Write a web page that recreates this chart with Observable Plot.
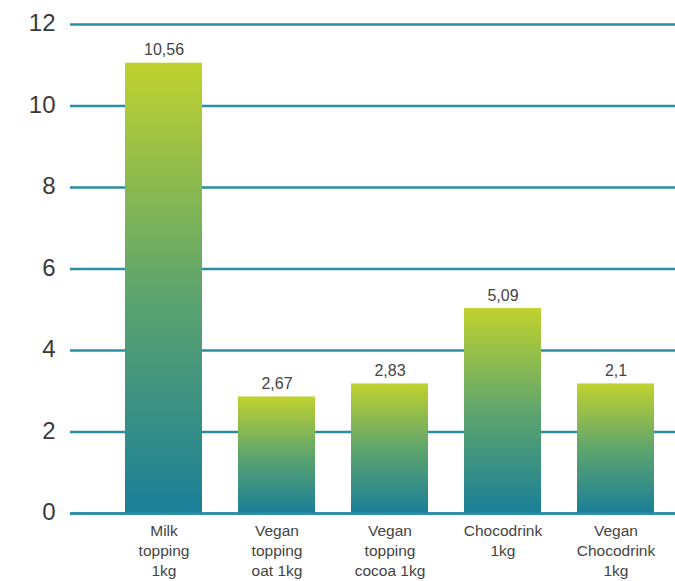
<!DOCTYPE html>
<html>
<head>
<meta charset="utf-8">
<script src="https://cdn.jsdelivr.net/npm/d3@7"></script>
<script src="https://cdn.jsdelivr.net/npm/@observablehq/plot@0.6"></script>
<style>
  body { margin: 0; background: #fff; }
  #chart { width: 675px; height: 581px; }
</style>
</head>
<body>
<div id="chart"></div>
<script>
const categories = ["Milk topping 1kg", "Vegan topping oat 1kg", "Vegan topping cocoa 1kg", "Chocodrink 1kg", "Vegan Chocodrink 1kg"];
const tickLabels = ["Milk\ntopping\n1kg", "Vegan\ntopping\noat 1kg", "Vegan\ntopping\ncocoa 1kg", "Chocodrink\n1kg", "Vegan\nChocodrink\n1kg"];
const barHeights = [11.05, 2.86, 3.18, 5.03, 3.18];
const valueLabels = ["10,56", "2,67", "2,83", "5,09", "2,1"];
const yTicks = [0, 2, 4, 6, 8, 10, 12];

const data = categories.map((c, i) => ({cat: c, h: barHeights[i], label: valueLabels[i], tick: tickLabels[i]}));

const font = "'Liberation Sans', Arial, sans-serif";

const plot = Plot.plot({
  width: 675,
  height: 581,
  marginLeft: 70,
  marginRight: 0,
  marginTop: 24,
  marginBottom: 68,
  style: {fontFamily: font, background: "#fff"},
  x: {domain: categories, range: [105, 674], paddingInner: 0.316, paddingOuter: 0.158, axis: null},
  y: {domain: [0, 12], axis: null},
  marks: [
    Plot.ruleY(yTicks, {stroke: "#2a8da2", strokeWidth: 2.5}),
    Plot.barY(data, {x: "cat", y: "h", fill: "url(#barGrad)"}),
    Plot.ruleY([0], {stroke: "#2a8da2", strokeWidth: 2.5}),
    Plot.text(yTicks, {y: d => d, text: d => String(d), frameAnchor: "left", textAnchor: "end", dx: -15, dy: -1, fontSize: 24, fill: "#3a3a3a"}),
    Plot.text(data, {x: "cat", y: "h", text: "label", lineAnchor: "bottom", dy: -8, fontSize: 16, fill: "#444"}),
    Plot.text(data, {x: "cat", y: 0, text: "tick", lineAnchor: "top", dy: 8, fontSize: 15.5, lineHeight: 1.29, fill: "#444"})
  ]
});

// gradient definition
const svgNS = "http://www.w3.org/2000/svg";
const defs = document.createElementNS(svgNS, "defs");
const grad = document.createElementNS(svgNS, "linearGradient");
grad.setAttribute("id", "barGrad");
grad.setAttribute("x1", "0"); grad.setAttribute("y1", "0");
grad.setAttribute("x2", "0"); grad.setAttribute("y2", "1");
[["0%", "#c0d22f"], ["50%", "#5fa56c"], ["100%", "#1a7f98"]].forEach(([o, c]) => {
  const s = document.createElementNS(svgNS, "stop");
  s.setAttribute("offset", o);
  s.setAttribute("stop-color", c);
  grad.appendChild(s);
});
defs.appendChild(grad);
plot.insertBefore(defs, plot.firstChild);

document.getElementById("chart").appendChild(plot);
</script>
</body>
</html>
